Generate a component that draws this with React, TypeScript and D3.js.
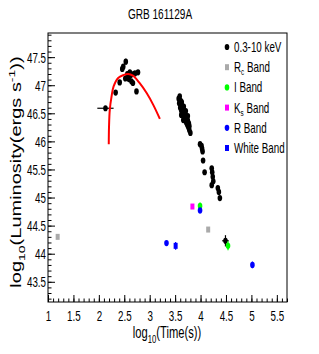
import React, { useEffect, useRef } from "react";
import * as d3 from "d3";

// [log t, log L, t err, L err]
const xray: number[][] = [
  [2.13, 46.59, 0.16, 0.03],
  [2.33, 46.87, 0, 0.04],
  [2.41, 47.05, 0, 0.04],
  [2.46, 47.29, 0, 0.04],
  [2.48, 47.33, 0, 0.04],
  [2.53, 47.42, 0, 0.05],
  [2.52, 47.12, 0, 0.04],
  [2.56, 47.2, 0, 0.04],
  [2.59, 47.11, 0, 0.04],
  [2.61, 47.23, 0, 0.04],
  [2.63, 47.18, 0, 0.04],
  [2.64, 47.07, 0, 0.04],
  [2.67, 47.04, 0, 0.04],
  [2.68, 47.2, 0, 0.04],
  [2.71, 47.21, 0, 0.04],
  [2.74, 46.89, 0, 0.04],
  [2.77, 47.23, 0, 0.04],
  [3.57, 46.76, 0, 0.03],
  [3.59, 46.8, 0, 0.03],
  [3.58, 46.68, 0, 0.03],
  [3.61, 46.72, 0, 0.03],
  [3.6, 46.6, 0, 0.03],
  [3.63, 46.66, 0, 0.03],
  [3.62, 46.55, 0, 0.03],
  [3.65, 46.62, 0, 0.03],
  [3.64, 46.5, 0, 0.03],
  [3.67, 46.57, 0, 0.03],
  [3.66, 46.45, 0, 0.03],
  [3.69, 46.52, 0, 0.03],
  [3.68, 46.41, 0, 0.03],
  [3.71, 46.47, 0, 0.03],
  [3.7, 46.37, 0, 0.03],
  [3.73, 46.42, 0, 0.03],
  [3.72, 46.33, 0, 0.03],
  [3.75, 46.37, 0, 0.03],
  [3.74, 46.29, 0, 0.03],
  [3.77, 46.32, 0, 0.03],
  [3.76, 46.25, 0, 0.03],
  [3.78, 46.27, 0, 0.03],
  [3.78, 46.2, 0, 0.03],
  [3.8, 46.15, 0, 0.03],
  [3.63, 46.7, 0, 0.03],
  [3.67, 46.62, 0, 0.03],
  [3.71, 46.54, 0, 0.03],
  [3.62, 46.47, 0, 0.03],
  [3.75, 46.45, 0, 0.03],
  [3.66, 46.38, 0, 0.03],
  [3.99, 45.95, 0, 0.03],
  [4.02, 45.92, 0, 0.04],
  [4.03, 45.87, 0, 0.04],
  [4.04, 45.82, 0, 0.04],
  [4.05, 45.66, 0, 0.04],
  [4.08, 45.45, 0, 0.04],
  [4.22, 45.52, 0, 0.04],
  [4.23, 45.45, 0, 0.04],
  [4.24, 45.37, 0, 0.04],
  [4.25, 45.29, 0, 0.04],
  [4.22, 45.22, 0, 0.04],
  [4.34, 45.17, 0, 0.04],
  [4.36, 45.1, 0, 0.04],
  [4.38, 44.99, 0, 0.04],
  [4.49, 44.23, 0.065, 0.1],
];
const rcBand: number[][] = [[1.19, 44.3, 0, 0], [4.15, 44.43, 0, 0]];
const iBand: number[][] = [[3.99, 44.85, 0, 0.06], [4.54, 44.14, 0, 0.08]];
const ksBand: number[][] = [[3.84, 44.84, 0, 0.03]];
const rBand: number[][] = [[3.33, 44.19, 0, 0.03], [3.99, 44.77, 0, 0.05], [5.02, 43.8, 0, 0.06]];
const whiteBand: number[][] = [[3.51, 44.14, 0, 0.07]];

// fitted model curve
const modelT = [2.195, 2.2, 2.215, 2.25, 2.29, 2.38, 2.48, 2.575, 2.67, 2.8, 2.94, 3.07, 3.2];
const modelL = [45.95, 46.26, 46.56, 46.8, 46.98, 47.13, 47.18, 47.2, 47.17, 47.04, 46.86, 46.65, 46.4];

const legendLabels = ["0.3-10 keV", "Rc Band", "I Band", "Ks Band", "R Band", "White Band"];
const legendColors = ["#000000", "#aaaaaa", "#00ff00", "#ff00ff", "#0000ff", "#0000ff"];
const legendShapes = ["circle", "square", "circle", "square", "circle", "square"];

const font = "'Liberation Sans', Arial, Helvetica, sans-serif";
const SX = 0.7;

export default function App() {
  const ref = useRef<SVGSVGElement>(null);

  useEffect(() => {
    const svg = d3.select(ref.current);
    svg.selectAll("*").remove();
    const L = 48, R = 287, T = 33, B = 302;
    const x = d3.scaleLinear().domain([1, 5.7]).range([L, R]);
    const y = d3.scaleLinear().domain([43.14, 47.93]).range([B, T]);

    svg.append("rect").attr("width", 319).attr("height", 354).attr("fill", "#fff");

    // minor ticks
    svg.append("g").attr("transform", `translate(0,${B})`)
      .call(d3.axisBottom(x).tickValues(d3.range(1, 5.71, 0.1)).tickSizeInner(-3.5).tickSizeOuter(0).tickFormat(() => ""))
      .call(g => g.select(".domain").remove());
    svg.append("g").attr("transform", `translate(${L},0)`)
      .call(d3.axisLeft(y).tickValues(d3.range(43.2, 47.95, 0.1)).tickSizeInner(-3.5).tickSizeOuter(0).tickFormat(() => ""))
      .call(g => g.select(".domain").remove());

    // major ticks
    const gx = svg.append("g").attr("transform", `translate(0,${B})`)
      .call(d3.axisBottom(x).tickValues(x.ticks(10)).tickSizeInner(-7).tickSizeOuter(0).tickFormat(d => String(d)));
    gx.select(".domain").remove();
    gx.selectAll("text").attr("y", 0).attr("dy", null)
      .attr("transform", `translate(0,19) scale(${SX},1)`)
      .attr("font-size", 14).attr("font-family", font).attr("fill", "#000");

    const gy = svg.append("g").attr("transform", `translate(${L},0)`)
      .call(d3.axisLeft(y).tickValues(y.ticks(10)).tickSizeInner(-7).tickSizeOuter(0).tickFormat(d => String(d)));
    gy.select(".domain").remove();
    gy.selectAll("text").attr("x", 0).attr("dy", null)
      .attr("transform", `translate(-2,5) scale(${SX},1)`)
      .attr("font-size", 14).attr("font-family", font).attr("fill", "#000");

    svg.selectAll(".tick line").attr("stroke", "#000").attr("stroke-width", 1);

    svg.append("rect").attr("x", L).attr("y", T).attr("width", R - L).attr("height", B - T)
      .attr("fill", "none").attr("stroke", "#000").attr("stroke-width", 1);

    // title and axis titles
    svg.append("text").attr("transform", `translate(160,19) scale(0.72,1)`)
      .attr("text-anchor", "middle").attr("font-size", 14).attr("font-family", font).text("GRB 161129A");

    const xt = svg.append("text").attr("transform", `translate(167,338) scale(${SX},1)`)
      .attr("text-anchor", "middle").attr("font-size", 16).attr("font-family", font);
    xt.append("tspan").text("log");
    xt.append("tspan").attr("font-size", 11).attr("dy", 5).text("10");
    xt.append("tspan").attr("dy", -5).text("(Time(s))");

    const yt = svg.append("text").attr("transform", `translate(21,172) scale(${SX},1) rotate(-90)`)
      .attr("text-anchor", "middle").attr("font-size", 20).attr("font-family", font);
    yt.append("tspan").text("log");
    yt.append("tspan").attr("font-size", 14).attr("dy", 6).text("10");
    yt.append("tspan").attr("dy", -6).text("(Luminosity(ergs s");
    yt.append("tspan").attr("font-size", 14).attr("dy", -8).text("-1");
    yt.append("tspan").attr("dy", 8).text("))");

    const drawSeries = (data: number[][], color: string, shape: string) => {
      const g = svg.append("g");
      data.forEach(([t, l, te, le]) => {
        if (le > 0) g.append("line").attr("x1", x(t)).attr("x2", x(t)).attr("y1", y(l - le)).attr("y2", y(l + le))
          .attr("stroke", color).attr("stroke-width", 1.2);
        if (te > 0) g.append("line").attr("x1", x(t - te)).attr("x2", x(t + te)).attr("y1", y(l)).attr("y2", y(l))
          .attr("stroke", color).attr("stroke-width", 1.2);
        if (shape === "circle") {
          g.append("ellipse").attr("cx", x(t)).attr("cy", y(l)).attr("rx", 2.3).attr("ry", 3.1).attr("fill", color);
        } else {
          g.append("rect").attr("x", x(t) - 2).attr("y", y(l) - 3).attr("width", 4).attr("height", 6).attr("fill", color);
        }
      });
    };

    drawSeries(xray, "#000", "circle");
    drawSeries(rcBand, "#aaaaaa", "square");
    drawSeries(iBand, "#00ff00", "circle");
    drawSeries(ksBand, "#ff00ff", "square");
    drawSeries(rBand, "#0000ff", "circle");
    drawSeries(whiteBand, "#0000ff", "square");

    const line = d3.line<number>().x((_, i) => x(modelT[i])).y(d => y(d)).curve(d3.curveCatmullRom);
    svg.append("path").attr("d", line(modelL)).attr("fill", "none").attr("stroke", "#ff0000").attr("stroke-width", 2);

    // legend
    const lg = svg.append("g");
    legendLabels.forEach((lab, i) => {
      const cy = 47 + i * 20.2;
      if (legendShapes[i] === "circle") {
        lg.append("ellipse").attr("cx", 227).attr("cy", cy).attr("rx", 2.3).attr("ry", 3.1).attr("fill", legendColors[i]);
      } else {
        lg.append("rect").attr("x", 225).attr("y", cy - 3).attr("width", 4).attr("height", 6).attr("fill", legendColors[i]);
      }
      const tx = lg.append("text").attr("transform", `translate(234,${cy + 5}) scale(${SX},1)`)
        .attr("font-size", 14).attr("font-family", font);
      if (lab === "Rc Band" || lab === "Ks Band") {
        tx.append("tspan").text(lab[0]);
        tx.append("tspan").attr("font-size", 9).attr("dy", 3).text(lab[1]);
        tx.append("tspan").attr("dy", -3).text(lab.slice(2));
      } else {
        tx.text(lab);
      }
    });
  }, []);

  return <svg ref={ref} width={319} height={354} style={{ position: "absolute", left: 0, top: 0 }} />;
}
